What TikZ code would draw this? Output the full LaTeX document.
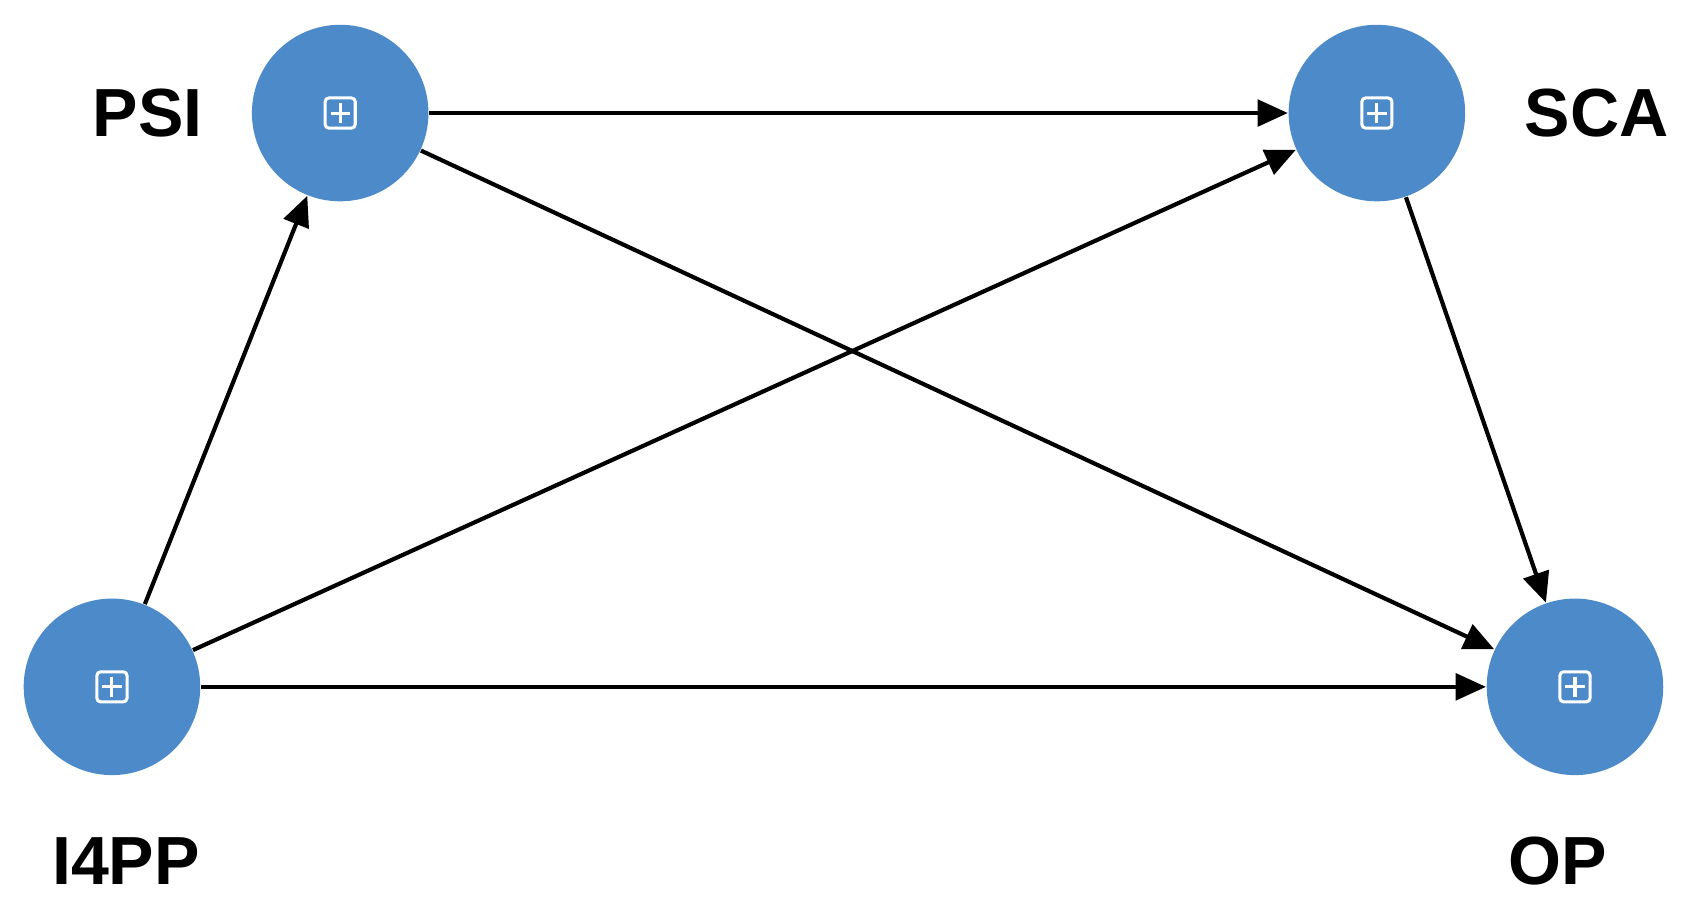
\documentclass[tikz,border=0pt]{standalone}
\usepackage{fontspec}
\setmainfont{Liberation Sans}
\usetikzlibrary{arrows.meta, positioning}
\definecolor{lvblue}{HTML}{4D8AC9}

\begin{document}
\begin{tikzpicture}[>={Triangle[length=8pt,width=7pt]}]
    \tikzstyle{latent}=[shape=circle,fill=lvblue,minimum size=1.64cm,inner sep=0pt]
    \tikzstyle{vlabel}=[font=\fontsize{18}{18}\selectfont\bfseries]
    \tikzstyle{link}=[->, line width=1.1pt, black]

    \useasboundingbox (0,0) rectangle (15.68,8.53);

    \node[latent] (PSI) at (3.16,7.48) {};
    \node[latent] (SCA) at (12.79,7.48) {};
    \node[latent] (I4PP) at (1.04,2.15) {};
    \node[latent] (OP) at (14.63,2.15) {};

    \node[vlabel] (lPSI) at (1.37,7.48) {PSI};
    \node[vlabel] (lSCA) at (14.83,7.48) {SCA};
    \node[vlabel] (lI4PP) at (1.17,0.53) {I4PP};
    \node[vlabel] (lOP) at (14.47,0.53) {OP};

    % small expand icons
    \foreach \n in {PSI,SCA,I4PP,OP}{
        \draw[white, line width=0.8pt, rounded corners=1pt]
            ([shift={(-0.14,-0.14)}]\n.center) rectangle ([shift={(0.14,0.14)}]\n.center);
        \draw[white, line width=0.8pt]
            ([xshift=-0.09cm]\n.center) -- ([xshift=0.09cm]\n.center)
            ([yshift=-0.09cm]\n.center) -- ([yshift=0.09cm]\n.center);
    }

    \draw[link] (PSI) -- (SCA);
    \draw[link] (PSI) -- (OP);
    \draw[link] (I4PP) -- (PSI);
    \draw[link] (I4PP) -- (SCA);
    \draw[link] (I4PP) -- (OP);
    \draw[link] (SCA) -- (OP);
\end{tikzpicture}
\end{document}
